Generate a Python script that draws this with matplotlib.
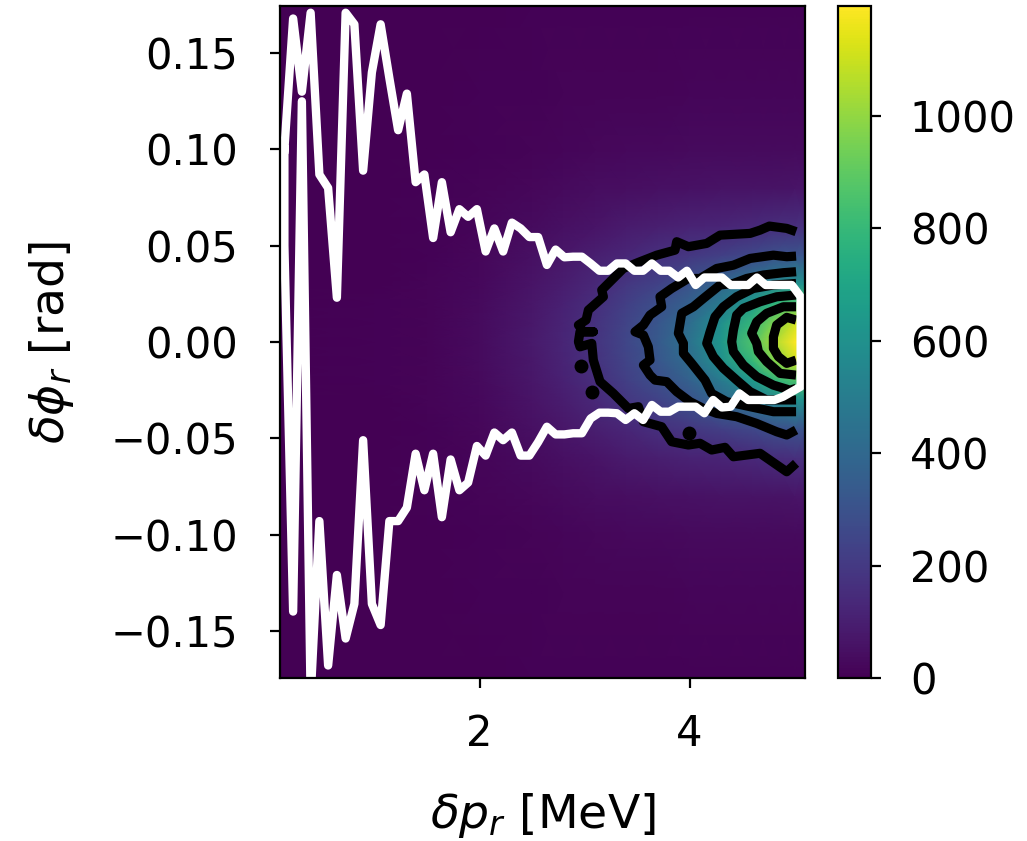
import numpy as np
import matplotlib
matplotlib.use('Agg')
import matplotlib.pyplot as plt

# Heatmap values, on a coarse grid
hist_x = [0.1, 1.0, 1.5, 2.0, 2.5, 2.8, 3.1, 3.4, 3.7, 4.0, 4.3, 4.6, 4.8, 5.0, 5.1]
hist_y = [-0.1745, -0.13, -0.10, -0.08, -0.06, -0.045, -0.03, -0.02, -0.01, 0.0,
          0.01, 0.02, 0.03, 0.045, 0.06, 0.08, 0.10, 0.13, 0.1745]
hist_counts = [
  [0, 1,  2,  3,  5,   6,   7,   8,   8,   8,   8,   8,    8,    8,    8],
  [0, 2,  3,  5,  8,  10,  12,  13,  14,  15,  15,  15,   15,   15,   15],
  [0, 2,  4,  8, 14,  18,  22,  26,  28,  30,  30,  32,   32,   32,   32],
  [0, 3,  5, 11, 22,  30,  38,  44,  50,  55,  58,  60,   60,   62,   62],
  [0, 3,  7, 16, 35,  50,  65,  85, 100, 115, 125, 140,  150,  160,  160],
  [0, 4,  9, 22, 50,  72, 100, 130, 165, 190, 220, 260,  290,  310,  310],
  [0, 4, 10, 28, 65,  95, 135, 190, 235, 300, 390, 480,  540,  600,  600],
  [0, 5, 11, 32, 73, 108, 155, 220, 285, 365, 490, 640,  770,  850,  850],
  [0, 5, 12, 34, 78, 118, 170, 240, 320, 420, 590, 790,  960, 1100, 1100],
  [0, 5, 12, 35, 80, 122, 175, 250, 335, 450, 630, 860, 1040, 1190, 1190],
  [0, 5, 12, 34, 78, 118, 170, 240, 320, 420, 590, 790,  960, 1100, 1100],
  [0, 5, 11, 32, 73, 108, 155, 220, 285, 365, 490, 640,  770,  850,  850],
  [0, 4, 10, 28, 65,  95, 135, 190, 235, 300, 390, 480,  540,  600,  600],
  [0, 4,  9, 22, 50,  72, 100, 130, 165, 190, 220, 260,  290,  310,  310],
  [0, 3,  7, 16, 35,  50,  65,  85, 100, 115, 125, 140,  150,  160,  160],
  [0, 3,  5, 11, 22,  30,  38,  44,  50,  55,  58,  60,   60,   62,   62],
  [0, 2,  4,  8, 14,  18,  22,  26,  28,  30,  30,  32,   32,   32,   32],
  [0, 2,  3,  5,  8,  10,  12,  13,  14,  15,  15,  15,   15,   15,   15],
  [0, 1,  2,  3,  5,   6,   7,   8,   8,   8,   8,   8,    8,    8,    8],
]

# White envelope, one value per 5/60 MeV bin
env_pr = [0.1417 + i*5/60 for i in range(60)]
env_upper = [0.100, 0.168, 0.130, 0.171, 0.087, 0.080, 0.023, 0.171, 0.165, 0.089,
             0.140, 0.165, 0.137, 0.110, 0.129, 0.083, 0.087, 0.054, 0.083, 0.057,
             0.069, 0.065, 0.069, 0.047, 0.059, 0.047, 0.062, 0.059, 0.0545, 0.0545,
             0.040, 0.048, 0.044, 0.0443, 0.0443, 0.0408, 0.037, 0.037, 0.0408, 0.0408,
             0.037, 0.037, 0.0408, 0.037, 0.037, 0.0335, 0.037, 0.0296, 0.0335, 0.0335,
             0.0335, 0.0296, 0.0296, 0.0296, 0.0335, 0.0296, 0.0296, 0.0296, 0.0296, 0.0235]
env_lower = [0.050, -0.140, 0.125, -0.185, -0.093, -0.168, -0.121, -0.154, -0.136, -0.051,
             -0.136, -0.147, -0.093, -0.093, -0.086, -0.058, -0.077, -0.058, -0.091, -0.061,
             -0.077, -0.073, -0.054, -0.059, -0.047, -0.051, -0.047, -0.059, -0.059, -0.052,
             -0.044, -0.048, -0.048, -0.0474, -0.0474, -0.0397, -0.0367, -0.0367, -0.037, -0.0405,
             -0.037, -0.0405, -0.0327, -0.0362, -0.0362, -0.0336, -0.0336, -0.0336, -0.037, -0.0301,
             -0.034, -0.0336, -0.0267, -0.0301, -0.0301, -0.0301, -0.0301, -0.0284, -0.0258, -0.0232]

# Black contours, outermost first
c1_x = [5.015, 4.926, 4.761, 4.672, 4.577, 4.291, 4.164, 3.989, 3.878, 3.862, 3.688, 3.529, 3.370, 3.291,
        3.164, 3.180, 3.037, 3.015, 2.942, 2.989, 3.084, 2.957, 2.942, 2.957, 3.069, 3.084, 3.148, 3.275,
        3.418, 3.513, 3.561, 3.735, 3.830, 3.989, 4.100, 4.211, 4.338, 4.418, 4.672, 4.926, 5.015]
c1_y = [.0573, .0590, .0602, .0581, .0564, .0555, .0512, .0495, .0521, .0477, .0451, .0417, .0382, .0339,
        .0270, .0235, .0166, .0114, .0088, .0053, .0053, .0053, .0001, -.0025, -.0007, -.0094, -.0206, -.0267,
        -.0345, -.0336, -.0414, -.0440, -.0518, -.0535, -.0526, -.0561, -.0547, -.0596, -.0578, -.0674, -.0630]
c2_x = [5.015, 4.926, 4.799, 4.577, 4.418, 4.259, 4.100, 3.989, 3.830, 3.719, 3.735, 3.624, 3.561, 3.481, 3.561,
        3.608, 3.624, 3.561, 3.624, 3.672, 3.783, 3.878, 4.005, 4.132, 4.259, 4.449, 4.640, 4.830, 4.926, 5.015]
c2_y = [.0446, .0443, .0451, .0434, .0399, .0382, .0330, .0330, .0278, .0235, .0183, .0140, .0088, .0053, .0036,
        -.0025, -.0094, -.0120, -.0172, -.0198, -.0206, -.0258, -.0310, -.0345, -.0371, -.0388, -.0423, -.0466, -.0483, -.0457]
c3_x = [5.015, 4.894, 4.704, 4.545, 4.418, 4.291, 4.132, 4.037, 3.926, 3.910, 3.894, 3.942, 3.942, 4.021, 4.148,
        4.211, 4.354, 4.577, 4.799, 5.015]
c3_y = [.0365, .0360, .0348, .0330, .0304, .0296, .0226, .0183, .0149, .0097, .0045, -.0007, -.0059, -.0111, -.0198,
        -.0267, -.0310, -.0336, -.0362, -.0362]
c4_x = [5.015, 4.799, 4.608, 4.449, 4.323, 4.243, 4.196, 4.164, 4.227, 4.323, 4.449, 4.577, 4.735, 5.015]
c4_y = [.0304, .0296, .0278, .0235, .0183, .0131, .0053, -.0007, -.0076, -.0137, -.0198, -.0258, -.0301, -.0301]
c5_x = [5.015, 4.831, 4.672, 4.513, 4.449, 4.418, 4.402, 4.418, 4.513, 4.640, 4.799, 4.957, 5.015]
c5_y = [.0244, .0235, .0209, .0175, .0140, .0062, .0001, -.0050, -.0120, -.0180, -.0224, -.0250, -.0241]
c6_x = [5.015, 4.894, 4.735, 4.640, 4.592, 4.640, 4.656, 4.735, 4.862, 5.015]
c6_y = [.0183, .0183, .0149, .0105, .0045, -.0007, -.0050, -.0102, -.0163, -.0172]
c7_x = [5.015, 4.926, 4.830, 4.799, 4.799, 4.846, 4.926, 5.015]
c7_y = [.0114, .0128, .0088, .0027, -.0033, -.0076, -.0111, -.0094]

# Small closed contours near the outer one
blob_x = [2.964, 3.075, 3.996]
blob_y = [-.0123, -.0258, -.0474]

x_ticks = [2, 4]
y_ticks = [-0.15, -0.10, -0.05, 0.00, 0.05, 0.10, 0.15]
cbar_ticks = [0, 200, 400, 600, 800, 1000]

W, H = 1027, 841
fig = plt.figure(figsize=(W/200, H/200), dpi=200)
ax = fig.add_axes([280/W, 1 - 678/H, 525/W, 672/H])
cax = fig.add_axes([838/W, 1 - 678/H, 33/W, 672/H])

mesh = ax.pcolormesh(hist_x, hist_y, np.array(hist_counts), shading='gouraud',
                     cmap='viridis', vmin=0, vmax=1195, rasterized=True)

# Contours under the envelope
for cx, cy in [(c1_x, c1_y), (c2_x, c2_y), (c3_x, c3_y), (c4_x, c4_y),
               (c5_x, c5_y), (c6_x, c6_y), (c7_x, c7_y)]:
  ax.plot(cx, cy, '-', color='k', lw=3.3, solid_capstyle='butt')
ax.plot(blob_x, blob_y, 'o', color='k', ms=5, mew=0)

# Closed outline: upper branch, then lower branch back to the start
ax.plot(env_pr + env_pr[::-1] + env_pr[:1],
        env_upper + env_lower[::-1] + env_upper[:1], '-', color='w', lw=3)

ax.set_xlim(0.1, 5.1)
ax.set_ylim(-0.1745, 0.1745)
ax.set_xticks(x_ticks)
ax.set_yticks(y_ticks)
ax.tick_params(axis='x', labelsize=15, pad=9)
ax.tick_params(axis='y', labelsize=15, pad=11.5)
ax.set_xlabel(r'$\delta p_r$ [MeV]', fontsize=17, labelpad=13)
ax.set_ylabel(r'$\delta\phi_r$ [rad]', fontsize=17, labelpad=12.5)

cbar = fig.colorbar(mesh, cax=cax)
cbar.set_ticks(cbar_ticks)
cbar.ax.tick_params(labelsize=15, pad=10.5)

plt.savefig('out.png', dpi=200)
